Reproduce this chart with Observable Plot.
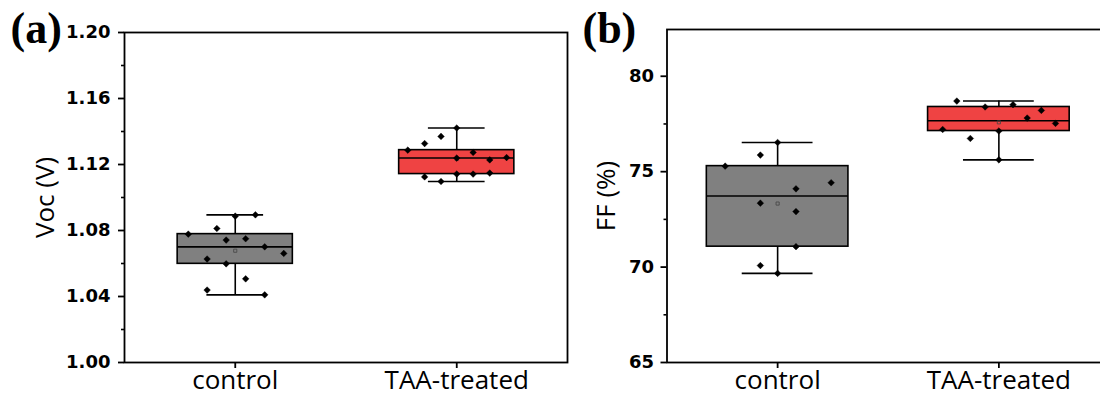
<!DOCTYPE html>
<html><head><meta charset="utf-8">
<script src="https://cdn.jsdelivr.net/npm/d3@7"></script>
<script src="https://cdn.jsdelivr.net/npm/@observablehq/plot@0.6"></script>
<style>
html,body{margin:0;padding:0;background:#fff;}
#wrap{position:relative;width:1100px;height:396px;overflow:hidden;background:#fff;}
#wrap svg{position:absolute;top:0;}
</style></head><body><div id="wrap"></div>
<script>
// ---- data ----
const categories = ["control", "TAA-treated"];

const vocControl = [1.0778, 1.0812, 1.0742, 1.0750, 1.0895, 1.0887, 1.0701, 1.0661, 1.0627, 1.0598, 1.0507, 1.0439, 1.0410];
const vocControlJitter = [-0.212, -0.083, -0.041, 0.047, 0.091, 0, 0.133, 0.219, -0.127, -0.041, 0.047, -0.127, 0.133];
const vocTreated = [1.1287, 1.1327, 1.1370, 1.1421, 1.1273, 1.1239, 1.1228, 1.1242, 1.1125, 1.1097, 1.1142, 1.1142, 1.1148];
const vocTreatedJitter = [-0.221, -0.145, -0.071, 0, 0.074, 0, 0.149, 0.225, -0.145, -0.071, 0, 0.074, 0.149];

const ffControl = [75.29, 75.87, 76.53, 73.35, 74.10, 74.42, 72.91, 71.07, 70.08, 69.67];
const ffControlJitter = [-0.237, -0.078, 0, -0.078, 0.083, 0.242, 0.083, 0.083, -0.078, 0];
const ffTreated = [77.21, 78.70, 76.74, 78.39, 77.13, 75.62, 78.51, 77.81, 78.21, 77.53];
const ffTreatedJitter = [-0.254, -0.190, -0.129, -0.062, 0, 0, 0.064, 0.128, 0.192, 0.256];

const vocTicks = [1.00, 1.04, 1.08, 1.12, 1.16, 1.20];
const vocMinorTicks = [1.02, 1.06, 1.10, 1.14, 1.18];
const ffTicks = [65, 70, 75, 80];
const ffMinorTicks = [67.5, 72.5, 77.5];
const boxColors = ["#808080", "#ef4343"];

// Tukey hinges (box), whiskers within 1.5 IQR
function boxStats(values, pos, boxHalf, capHalf) {
  const s = values.slice().sort(d3.ascending);
  const n = s.length;
  const q1 = d3.median(s.slice(0, Math.ceil(n / 2)));
  const q3 = d3.median(s.slice(Math.floor(n / 2)));
  const med = d3.median(s);
  const iqr = q3 - q1;
  const lo = d3.min(s.filter(v => v >= q1 - 1.5 * iqr));
  const hi = d3.max(s.filter(v => v <= q3 + 1.5 * iqr));
  return {pos, q1, q3, med, lo, hi, mean: d3.mean(s),
    b1: pos - boxHalf, b2: pos + boxHalf, c1: pos - capHalf, c2: pos + capHalf};
}

function panel(o) {
  const stats = o.groups.map((g, i) => ({...boxStats(g, i + 1, o.boxHalf, o.capHalf), color: boxColors[i]}));
  const points = o.groups.flatMap((g, i) => g.map((v, j) => ({x: i + 1 + o.jitters[i][j], y: v})));
  return Plot.plot({
    width: o.width, height: 396,
    marginLeft: o.ml, marginRight: o.mr, marginTop: o.mt, marginBottom: o.mb,
    style: {background: "transparent", overflow: "visible", fontFamily: "'Open Sans'"},
    x: {type: "linear", domain: [0.5, 2.5]},
    y: {type: "linear", domain: o.yDomain},
    marks: [
      Plot.rect(stats, {x1: "b1", x2: "b2", y1: "q1", y2: "q3", fill: "color", stroke: "black", strokeWidth: 1.6}),
      Plot.ruleY(stats, {y: "med", x1: "b1", x2: "b2", stroke: "black", strokeWidth: 1.6}),
      Plot.ruleX(stats, {x: "pos", y1: "q3", y2: "hi", stroke: "black", strokeWidth: 1.6}),
      Plot.ruleX(stats, {x: "pos", y1: "lo", y2: "q1", stroke: "black", strokeWidth: 1.6}),
      Plot.ruleY(stats, {y: "hi", x1: "c1", x2: "c2", stroke: "black", strokeWidth: 1.6}),
      Plot.ruleY(stats, {y: "lo", x1: "c1", x2: "c2", stroke: "black", strokeWidth: 1.6}),
      Plot.dot(stats, {x: "pos", y: "mean", symbol: "square2", r: 2, stroke: "#444", strokeWidth: 0.8, fill: "none"}),
      Plot.dot(points, {x: "x", y: "y", symbol: "diamond2", r: 3, fill: "black", stroke: "black", strokeWidth: 0.4}),
      Plot.axisY(o.ticks, {tickSize: 6, tickPadding: o.tickPadding, tickFormat: o.fmt, fontFamily: "DejaVu Sans", fontWeight: "bold", fontSize: 18, strokeWidth: 1.8, label: null}),
      Plot.axisY(o.minor, {tickSize: 3, tickFormat: () => "", strokeWidth: 1.6, label: null}),
      Plot.axisX([1, 2], {tickSize: 6, tickPadding: 2, tickFormat: d => categories[d - 1], fontFamily: "Open Sans", fontSize: 26, strokeWidth: 1.8, label: null}),
      Plot.text([o.title], {text: d => d, frameAnchor: "left", rotate: -90, dx: o.titleDx, fontSize: 26, fontFamily: "Open Sans", textAnchor: "middle", lineAnchor: "middle", fill: "black"}),
      Plot.text([o.tag], {text: d => d, frameAnchor: "top-left", dx: o.tagDx, dy: o.tagDy, fontSize: 44, fontFamily: "Liberation Serif", fontWeight: "bold", textAnchor: "start", lineAnchor: "middle", fill: "black"}),
      Plot.frame({stroke: "black", strokeWidth: 1.8})
    ]
  });
}

const wrap = document.getElementById("wrap");

const a = panel({
  groups: [vocControl, vocTreated], jitters: [vocControlJitter, vocTreatedJitter],
  yDomain: [1.00, 1.20], ticks: vocTicks, minor: vocMinorTicks, fmt: d3.format(".2f"),
  title: "Voc (V)", tag: "(a)",
  width: 572, ml: 124, mr: 5, mt: 32, mb: 34,
  boxHalf: 0.26, capHalf: 0.128, titleDx: -79, tagDx: -114, tagDy: -3.6, tickPadding: 8
});
a.style.left = "0px";
wrap.appendChild(a);

const b = panel({
  groups: [ffControl, ffTreated], jitters: [ffControlJitter, ffTreatedJitter],
  yDomain: [65, 82.45], ticks: ffTicks, minor: ffMinorTicks, fmt: d3.format("d"),
  title: "FF (%)", tag: "(b)",
  width: 560, ml: 106.5, mr: 11, mt: 29, mb: 34,
  boxHalf: 0.32, capHalf: 0.16, titleDx: -60.5, tagDx: -84.5, tagDy: -0.6, tickPadding: 7
});
b.style.left = "560px";
wrap.appendChild(b);
</script></body></html>
